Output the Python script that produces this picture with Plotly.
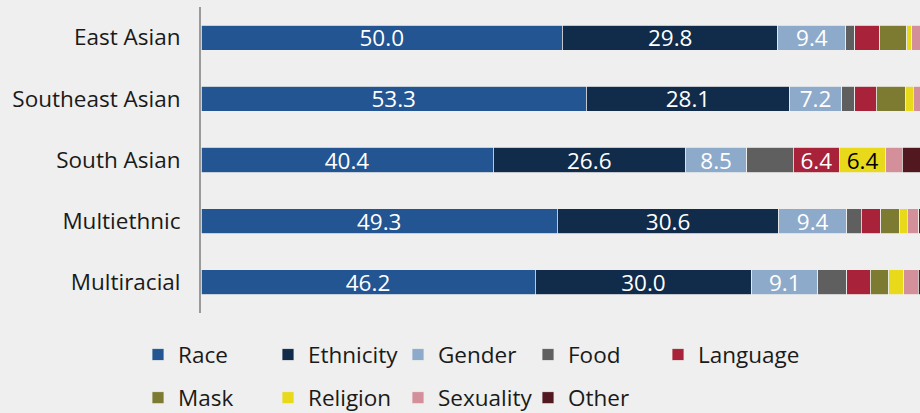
import plotly.graph_objects as go

categories = ["East Asian", "Southeast Asian", "South Asian", "Multiethnic", "Multiracial"]
series_names = ["Race", "Ethnicity", "Gender", "Food", "Language", "Mask", "Religion", "Sexuality", "Other"]
race = [50.0, 53.3, 40.4, 49.3, 46.2]
ethnicity = [29.8, 28.1, 26.6, 30.6, 30.0]
gender = [9.4, 7.2, 8.5, 9.4, 9.1]
food = [1.2, 1.8, 6.4, 2.0, 4.0]
language = [3.5, 3.0, 6.4, 2.7, 3.3]
mask = [3.7, 4.0, 0.0, 2.6, 2.5]
religion = [0.7, 1.1, 6.4, 1.1, 2.1]
sexuality = [1.2, 1.0, 2.3, 1.6, 2.0]
other = [0.5, 0.5, 3.0, 0.7, 0.8]
labelled = ["Race", "Ethnicity", "Gender", "Language", "Religion"]

values = [race, ethnicity, gender, food, language, mask, religion, sexuality, other]
colors = ["#235592", "#112b4b", "#8eaacb", "#5f5f5f", "#a8223a", "#7d7a32", "#e8da1a", "#d4909a", "#521820"]
text_colors = ["white", "white", "white", "white", "white", "white", "black", "white", "white"]
legend_of = ["legend", "legend", "legend", "legend", "legend3", "legend2", "legend2", "legend2", "legend2"]

BG = "#eeefee"
FONT = "Open Sans, Lato, sans-serif"
FS = 22.5

fig = go.Figure()
for name, vals, col, tcol, lg in zip(series_names, values, colors, text_colors, legend_of):
    txt = [f"{v:.1f}" if (name in labelled and v >= 6) else "" for v in vals]
    fig.add_trace(go.Bar(
        y=categories, x=vals, name=name, orientation="h",
        marker=dict(color=col, line=dict(color=BG, width=0.8)),
        text=txt, textposition="inside", insidetextanchor="middle",
        textfont=dict(color=tcol, size=FS, family=FONT),
        legend=lg, hoverinfo="x+name",
    ))

legend_common = dict(orientation="h", xref="container", yref="container", x=0.15,
                     xanchor="left", yanchor="middle", entrywidth=85, entrywidthmode="pixels",
                     itemwidth=30, bgcolor="rgba(0,0,0,0)",
                     font=dict(size=FS, family=FONT, color="#1a1a1a"), traceorder="normal")
legend_single = dict(orientation="h", xref="container", yref="container",
                     x=(0.15 * 920 + 4 * 130) / 920,
                     xanchor="left", yanchor="middle", itemwidth=30, bgcolor="rgba(0,0,0,0)",
                     font=dict(size=FS, family=FONT, color="#1a1a1a"))

fig.update_layout(
    barmode="stack",
    bargap=0.59,
    width=920, height=413,
    margin=dict(l=201, r=0, t=7, b=100),
    paper_bgcolor=BG, plot_bgcolor=BG,
    font=dict(family=FONT, size=FS, color="#1a1a1a"),
    uniformtext=dict(minsize=FS, mode="show"),
    xaxis=dict(range=[0, 99.45], showgrid=False, zeroline=False, showticklabels=False,
               fixedrange=True, automargin=False),
    yaxis=dict(autorange="reversed", showgrid=False, zeroline=False, showline=True,
               linecolor="#9a9a9a", linewidth=2, ticks="", ticklabelstandoff=14,
               automargin=False,
               tickfont=dict(size=FS, family=FONT, color="#1a1a1a")),
    legend=dict(legend_common, y=0.1406),
    legend2=dict(legend_common, y=0.0363),
    legend3=dict(legend_single, y=0.1406),
)

fig.write_html("out.html", config={"displayModeBar": False},
               post_script="document.body.style.margin='0';")
